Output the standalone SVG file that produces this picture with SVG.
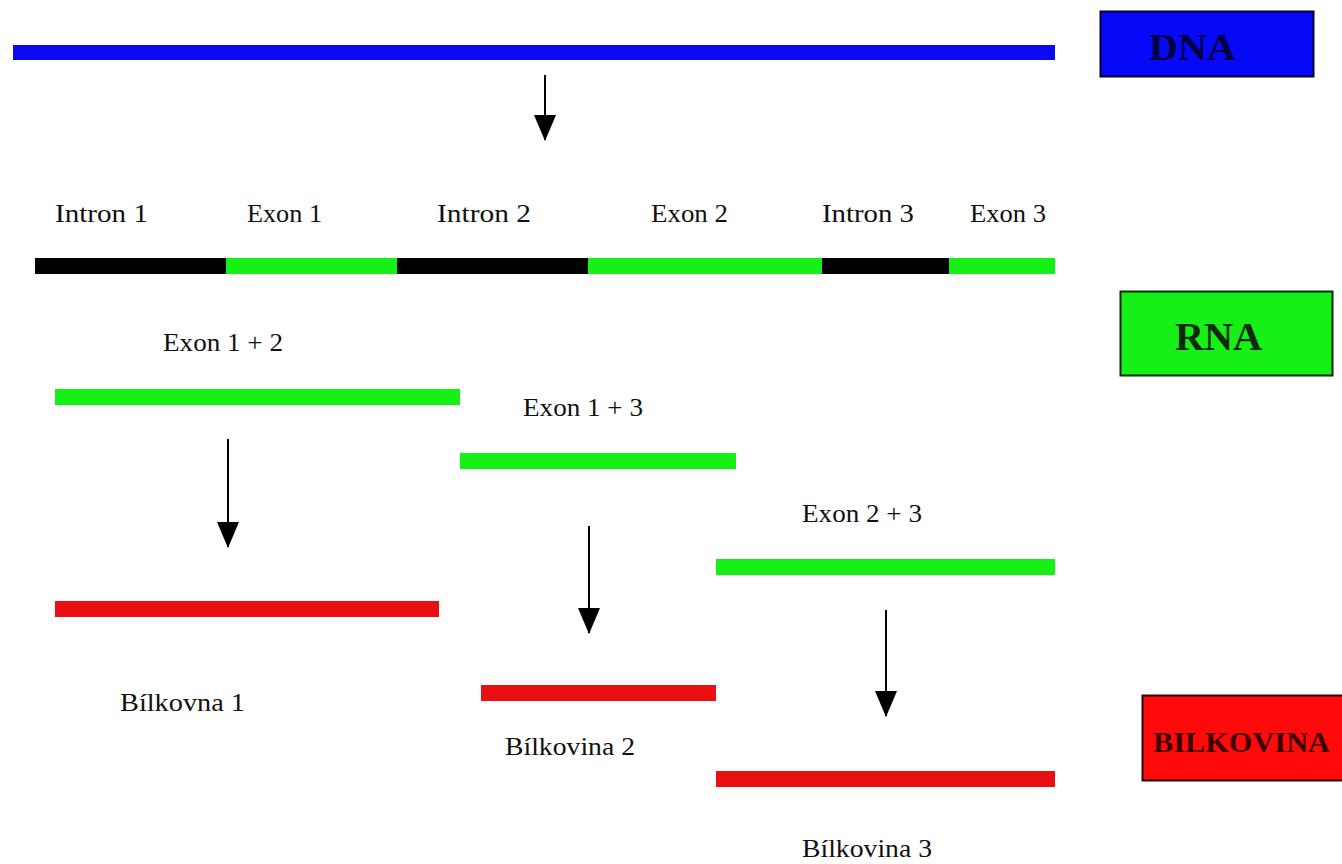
<svg xmlns="http://www.w3.org/2000/svg" width="1342" height="864" viewBox="0 0 1342 864">
<style>
.lbl{font-family:"Liberation Serif","Times New Roman",serif;font-size:26px;fill:#111}
.big{font-family:"Liberation Serif","Times New Roman",serif;font-weight:bold}
.arr{stroke:#000;stroke-width:2;fill:none}
</style>
<defs>
<marker id="ah" viewBox="0 0 26 22" refX="25" refY="11" markerWidth="26" markerHeight="22" markerUnits="userSpaceOnUse" orient="auto">
<path d="M0,0 L26,11 L0,22 Z" fill="#000"/>
</marker>
</defs>
<rect width="1342" height="864" fill="#fff"/>

<g id="dna-bar"><rect x="13" y="45" width="1042" height="15" fill="#0a0af0"/></g>
<g id="dna-box"><rect x="1100.5" y="11.5" width="213" height="65" fill="#0808f8" stroke="#000030" stroke-width="2"/><text class="big" x="1149" y="60" font-size="38" textLength="87" lengthAdjust="spacingAndGlyphs" fill="#000040">DNA</text></g>

<g id="rna-segments">
<rect x="35" y="258" width="191" height="16" fill="#000"/>
<rect x="226" y="258" width="171" height="16" fill="#16f016"/>
<rect x="397" y="258" width="191" height="16" fill="#000"/>
<rect x="588" y="258" width="234" height="16" fill="#16f016"/>
<rect x="822" y="258" width="127" height="16" fill="#000"/>
<rect x="949" y="258" width="106" height="16" fill="#16f016"/>
</g>
<g id="segment-labels">
<text class="lbl" x="55" y="222" textLength="93" lengthAdjust="spacingAndGlyphs">Intron 1</text>
<text class="lbl" x="247" y="222" textLength="75" lengthAdjust="spacingAndGlyphs">Exon 1</text>
<text class="lbl" x="437" y="222" textLength="94" lengthAdjust="spacingAndGlyphs">Intron 2</text>
<text class="lbl" x="651" y="222" textLength="77" lengthAdjust="spacingAndGlyphs">Exon 2</text>
<text class="lbl" x="822" y="222" textLength="92" lengthAdjust="spacingAndGlyphs">Intron 3</text>
<text class="lbl" x="970" y="222" textLength="76" lengthAdjust="spacingAndGlyphs">Exon 3</text>
</g>
<g id="rna-box"><rect x="1120.5" y="291.5" width="212" height="84" fill="#16f016" stroke="#0a2a0a" stroke-width="2"/><text class="big" x="1175" y="350" font-size="40" textLength="87" lengthAdjust="spacingAndGlyphs" fill="#0a2a0a">RNA</text></g>

<g id="mrna-1"><rect x="55" y="389" width="405" height="16" fill="#16f016"/><text class="lbl" x="163" y="351" textLength="120" lengthAdjust="spacingAndGlyphs">Exon 1 + 2</text></g>
<g id="mrna-2"><rect x="460" y="453" width="276" height="16" fill="#16f016"/><text class="lbl" x="523" y="416" textLength="120" lengthAdjust="spacingAndGlyphs">Exon 1 + 3</text></g>
<g id="mrna-3"><rect x="716" y="559" width="339" height="16" fill="#16f016"/><text class="lbl" x="802" y="522" textLength="120" lengthAdjust="spacingAndGlyphs">Exon 2 + 3</text></g>

<g id="protein-1"><rect x="55" y="601" width="384" height="16" fill="#e81010"/><text class="lbl" x="120" y="711" textLength="125" lengthAdjust="spacingAndGlyphs">Bílkovna 1</text></g>
<g id="protein-2"><rect x="481" y="685" width="235" height="16" fill="#e81010"/><text class="lbl" x="505" y="755" textLength="130" lengthAdjust="spacingAndGlyphs">Bílkovina 2</text></g>
<g id="protein-3"><rect x="716" y="771" width="339" height="16" fill="#e81010"/><text class="lbl" x="802" y="857" textLength="130" lengthAdjust="spacingAndGlyphs">Bílkovina 3</text></g>

<g id="protein-box"><rect x="1142.5" y="695.5" width="202" height="85" fill="#ff0a0a" stroke="#300000" stroke-width="2"/><text class="big" x="1153" y="752" font-size="30" textLength="177" lengthAdjust="spacingAndGlyphs" fill="#3a0000">BILKOVINA</text></g>

<g id="connectors">
<line class="arr" x1="545" y1="75" x2="545" y2="140" marker-end="url(#ah)"/>
<line class="arr" x1="228" y1="439" x2="228" y2="547" marker-end="url(#ah)"/>
<line class="arr" x1="589" y1="526" x2="589" y2="633" marker-end="url(#ah)"/>
<line class="arr" x1="886" y1="610" x2="886" y2="716" marker-end="url(#ah)"/>
</g>
</svg>
